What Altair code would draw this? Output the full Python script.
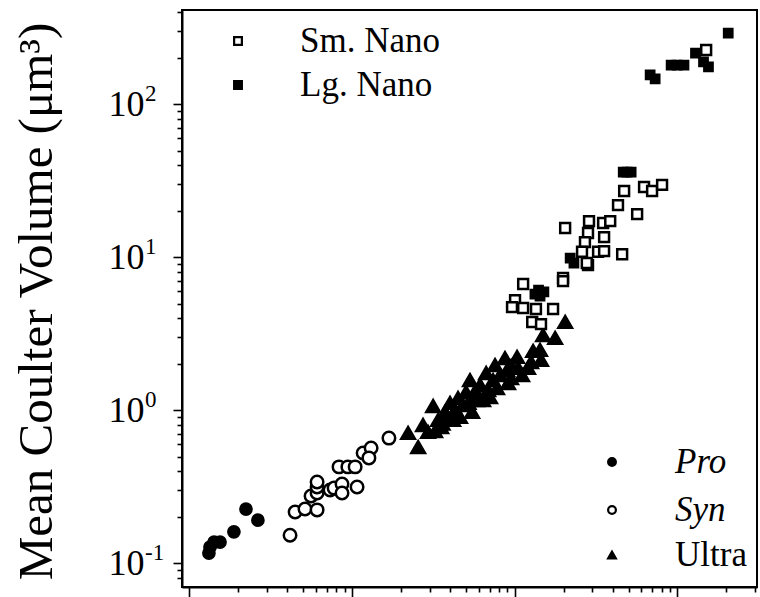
import altair as alt
import pandas as pd

# ---- measurements (arbitrary x units, Coulter volume in um^3) ----
pro_x = [0.0132, 0.0134, 0.0142, 0.01545, 0.0188, 0.0223, 0.0264]
pro_y = [0.117, 0.128, 0.138, 0.138, 0.161, 0.227, 0.192]

syn_x = [0.0416, 0.0447, 0.0514, 0.061, 0.056, 0.061, 0.061, 0.061, 0.0733, 0.0776,
         0.0868, 0.0868, 0.1074, 0.0832, 0.0943, 0.1045, 0.117, 0.131, 0.127, 0.1686]
syn_y = [0.153, 0.217, 0.227, 0.224, 0.276, 0.289, 0.316, 0.341, 0.302, 0.311,
         0.331, 0.289, 0.316, 0.428, 0.428, 0.428, 0.527, 0.569, 0.49, 0.660]

ultra_x = [0.221, 0.255, 0.273, 0.293, 0.315, 0.324, 0.338, 0.353, 0.373, 0.384,
           0.400, 0.418, 0.430, 0.448, 0.461, 0.481, 0.502, 0.531, 0.547, 0.562,
           0.586, 0.612, 0.639, 0.667, 0.686, 0.705, 0.736, 0.757, 0.778, 0.812,
           0.871, 0.897, 0.910, 0.949, 1.033, 1.048, 1.109, 1.207, 1.26, 1.296,
           1.43, 1.451, 1.493, 1.77, 2.04, 0.36, 0.44, 0.52, 0.60, 0.95]
ultra_y = [0.713, 0.577, 0.804, 0.724, 1.07, 0.734, 0.867, 0.780, 0.978, 0.907,
           1.12, 0.867, 1.008, 1.207, 0.907, 1.086, 1.32, 1.58, 0.978, 1.30,
           1.17, 1.468, 1.17, 1.758, 1.36, 1.224, 1.58, 1.98, 1.40, 1.706,
           2.20, 1.84, 1.51, 1.63, 2.24, 1.90, 1.706, 1.90, 2.075, 2.45,
           2.49, 2.14, 3.11, 2.98, 3.79, 0.82, 0.95, 1.12, 1.25, 1.95]

sm_nano_x = [2.04, 2.86, 2.82, 2.70, 2.59, 1.98, 1.98, 2.82, 3.49, 3.86, 3.54, 3.25,
             3.54, 4.31, 4.70, 5.65, 4.57, 6.23, 6.98, 8.04, 2.77, 1.126, 1.004,
             0.962, 1.126, 1.35, 1.72, 1.28, 1.45, 15.0]
sm_nano_y = [15.6, 17.3, 14.45, 12.6, 10.9, 7.35, 7.0, 8.93, 16.8, 17.3, 13.6, 10.9,
             11.0, 22.0, 27.2, 19.2, 10.5, 28.9, 27.2, 29.8, 9.2, 6.71, 5.27,
             4.74, 4.68, 4.61, 4.61, 3.79, 3.67, 227]

lg_nano_x = [2.19, 2.31, 1.40, 1.51, 1.33, 1.43, 4.64, 4.90, 5.19, 6.79, 7.29,
             9.14, 9.94, 10.96, 12.9, 14.45, 15.5, 20.5]
lg_nano_y = [9.92, 9.2, 6.13, 5.95, 5.77, 5.60, 36.2, 36.2, 36.2, 156, 147,
             181, 181, 181, 217, 190, 176, 293]

# ---- axis ticks ----
x_ticks = [0.01, 0.02, 0.03, 0.04, 0.05, 0.06, 0.07, 0.08, 0.09,
           0.1, 0.2, 0.3, 0.4, 0.5, 0.6, 0.7, 0.8, 0.9,
           1, 2, 3, 4, 5, 6, 7, 8, 9, 10, 20, 30]
y_ticks = [0.08, 0.09, 0.1, 0.2, 0.3, 0.4, 0.5, 0.6, 0.7, 0.8, 0.9,
           1, 2, 3, 4, 5, 6, 7, 8, 9, 10, 20, 30, 40, 50, 60, 70, 80, 90,
           100, 200, 300, 400]
y_decades = [0.1, 1, 10, 100]
y_exponents = ["-1", "0", "1", "2"]

groups = ["Ultra", "Syn", "Pro", "Sm. Nano", "Lg. Nano"]
group_shapes = ["triangle-up", "circle", "circle", "square", "square"]
group_fills = ["black", "white", "black", "white", "black"]
group_sizes = [185, 68, 145, 78, 100]

FONT = "Liberation Serif"
MAJOR = "abs(log(datum.value)/LN10 - round(log(datum.value)/LN10)) < 0.001"

series = [
    ("Ultra", ultra_x, ultra_y),
    ("Syn", syn_x, syn_y),
    ("Pro", pro_x, pro_y),
    ("Sm. Nano", sm_nano_x, sm_nano_y),
    ("Lg. Nano", lg_nano_x, lg_nano_y),
]
rows = []
for name, xs, ys in series:
    for xv, yv in zip(xs, ys):
        rows.append({"x": xv, "y": yv, "group": name})
df = pd.DataFrame(rows)
df["draw"] = range(len(df))

x_scale = alt.Scale(type="log", domain=[0.00902, 30.8], nice=False)
y_scale = alt.Scale(type="log", domain=[0.0702, 414.6], nice=False)

x_axis = alt.Axis(
    values=x_ticks, labels=False, title=None, grid=False,
    domainColor="black", domainWidth=2, tickColor="black", tickWidth=1.6,
    tickSize={"condition": {"test": MAJOR, "value": 10}, "value": 5},
)
y_axis = alt.Axis(
    values=y_ticks, grid=False,
    labelExpr=MAJOR + " ? '10' : ''",
    labelAlign="left", labelBaseline="middle", labelPadding=65,
    labelFont=FONT, labelFontSize=36, labelColor="black",
    labelOverlap=False, labelFlush=False,
    domainColor="black", domainWidth=2, tickColor="black", tickWidth=1.6,
    tickSize={"condition": {"test": MAJOR, "value": 9}, "value": 5},
    title="Mean Coulter Volume (μm³)",
    titleFont=FONT, titleFontSize=49, titleFontWeight="normal", titleColor="black",
    titleX=-146, titleY=291, titleAngle=-90, titleAlign="center", titleBaseline="middle",
)

points = alt.Chart(df).mark_point(
    filled=True, stroke="black", strokeWidth=2.5, opacity=1
).encode(
    x=alt.X("x:Q", scale=x_scale, axis=x_axis),
    y=alt.Y("y:Q", scale=y_scale, axis=y_axis),
    shape=alt.Shape("group:N", scale=alt.Scale(domain=groups, range=group_shapes), legend=None),
    fill=alt.Fill("group:N", scale=alt.Scale(domain=groups, range=group_fills), legend=None),
    size=alt.Size("group:N", scale=alt.Scale(domain=groups, range=group_sizes), legend=None),
    order=alt.Order("draw:Q"),
)

# exponents of the decade labels on the y axis (shares the y scale and axis)
exponents = alt.Chart(pd.DataFrame({"y": y_decades, "e": y_exponents})).mark_text(
    align="left", baseline="middle", font=FONT, fontSize=23, dy=-10, color="black"
).encode(
    x=alt.value(-37),
    y=alt.Y("y:Q", scale=y_scale, axis=y_axis),
    text="e:N",
)


def legend_entry(label, shape, fill, cx, cy, tx, italic):
    sym = alt.Chart(pd.DataFrame({"label": [label]})).mark_point(
        shape=shape, filled=True, fill=fill, stroke="black", strokeWidth=2.2,
        size=60, opacity=1
    ).encode(x=alt.value(cx), y=alt.value(cy))
    txt = alt.Chart(pd.DataFrame({"label": [label]})).mark_text(
        align="left", baseline="alphabetic", font=FONT, fontSize=35,
        fontStyle="italic" if italic else "normal", color="black"
    ).encode(x=alt.value(tx), y=alt.value(cy + 11), text="label:N")
    return [sym, txt]


legend_layers = []
legend_layers += legend_entry("Sm. Nano", "square", "white", 56, 31, 118, False)
legend_layers += legend_entry("Lg. Nano", "square", "black", 56, 75, 118, False)
legend_layers += legend_entry("Pro", "circle", "black", 430, 452, 493, True)
legend_layers += legend_entry("Syn", "circle", "white", 430, 500, 493, True)
legend_layers += legend_entry("Ultra", "triangle-up", "black", 430, 545, 493, False)

chart = alt.layer(points, exponents, *legend_layers).properties(
    width=575,
    height=577,
    padding={"left": 182, "top": 10, "right": 3, "bottom": 10},
    autosize=alt.AutoSizeParams(type="none"),
    background="white",
).configure_view(stroke="black", strokeWidth=2)

chart.save("out.html", embed_options={"renderer": "svg", "actions": False})
